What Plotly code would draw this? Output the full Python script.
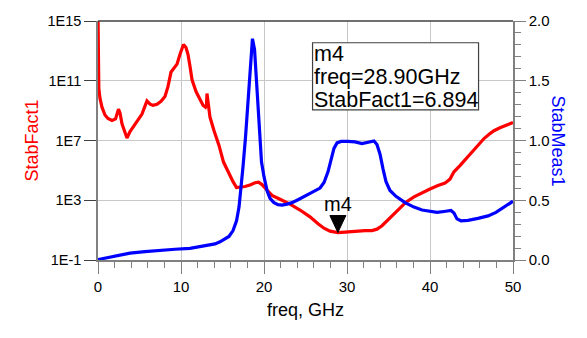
import math
import plotly.graph_objects as go

# ---- data ----
freq_fact = [0, 0.1, 0.24, 0.48, 0.84, 1.2, 1.69, 2.11, 2.47, 2.65, 2.89, 3.25, 3.49, 3.86, 4.34,
             4.82, 5.3, 5.66, 5.9, 6.27, 6.63, 7.11, 7.59, 8.07, 8.43, 8.8, 9.16, 9.52, 9.88,
             10.3, 10.6, 10.84, 11.08, 11.33, 11.81, 12.29, 12.65, 12.95, 13.07, 13.13, 13.25,
             13.49, 13.98, 14.58, 15.12, 15.66, 16.27, 16.69, 17.23, 17.71, 18.31, 18.92, 19.34,
             19.76, 20.24, 20.96, 21.93, 23.13, 24.34, 25.54, 26.51, 27.23, 27.95, 28.9, 29.76,
             30.96, 32.17, 33.01, 33.61, 34.22, 35.18, 36.14, 37.11, 38.07, 39.04, 40.0, 40.96,
             41.81, 42.41, 42.89, 43.61, 44.58, 45.54, 46.51, 47.23, 47.71, 48.43, 49.16, 50.0]
stab_fact = [3e15, 3.0e10, 6.6e9, 1.7e9, 5.1e8, 3.0e8, 2.2e8, 2.8e8, 1.25e9, 6.9e8, 1.3e8, 2.9e7,
             1.46e7, 3.9e7, 9.6e7, 2.0e8, 5.9e8, 2.0e9, 4.5e9, 2.7e9, 2.3e9, 2.7e9, 4.2e9, 8.9e9,
             4.0e10, 3.9e11, 7.1e11, 1.3e12, 5.9e12, 2.7e13, 1.7e13, 5.9e12, 9.6e11, 1.16e11,
             1.9e10, 4.9e9, 2.3e9, 1.7e9, 2.3e9, 1.4e10, 3.1e9, 3.7e8, 4.5e7, 4.7e6, 3.6e5,
             8.0e4, 1.76e4, 7.1e3, 7.7e3, 8.3e3, 1.04e4, 1.5e4, 1.63e4, 1.12e4, 5.7e3, 2.1e3,
             1.16e3, 547, 221, 77, 26.7, 13.5, 8.6, 6.894, 7.4, 8.6, 9.3, 9.3, 11.6, 19.7, 66,
             238, 740, 1.7e3, 3.35e3, 5.7e3, 9.6e3, 1.4e4, 2.6e4, 8.0e4, 2.1e5, 8.9e5, 3.5e6,
             1.35e7, 2.9e7, 4.5e7, 7.1e7, 1.04e8, 1.6e8]

freq_meas = [0, 0.84, 2.05, 3.86, 5.66, 7.47, 9.28, 11.08, 12.29, 13.25, 14.1, 14.7, 15.18, 15.78,
             16.27, 16.69, 16.99, 17.23, 17.47, 17.77, 18.07, 18.37, 18.61, 18.86, 19.16, 19.46,
             19.7, 20.0, 20.36, 20.72, 21.2, 21.69, 22.17, 22.77, 23.37, 24.1, 24.82, 25.78,
             26.75, 27.23, 27.71, 28.07, 28.43, 28.8, 29.28, 30.12, 30.96, 31.81, 32.53, 33.25,
             33.61, 33.98, 34.34, 34.7, 35.18, 35.9, 36.99, 38.07, 39.04, 40.0, 40.84, 41.69,
             42.53, 42.89, 43.25, 43.73, 44.58, 45.78, 46.99, 47.95, 48.8, 49.4, 50.0]
stab_meas = [0.004, 0.016, 0.037, 0.057, 0.070, 0.082, 0.090, 0.098, 0.111, 0.123, 0.135, 0.152,
             0.172, 0.197, 0.246, 0.328, 0.443, 0.590, 0.779, 1.025, 1.352, 1.680, 1.852, 1.762,
             1.434, 1.107, 0.820, 0.697, 0.582, 0.516, 0.480, 0.463, 0.459, 0.467, 0.480, 0.504,
             0.533, 0.566, 0.602, 0.648, 0.738, 0.844, 0.934, 0.980, 0.992, 0.992, 0.988, 0.975,
             0.984, 0.996, 0.967, 0.885, 0.762, 0.656, 0.582, 0.533, 0.480, 0.443, 0.418, 0.406,
             0.398, 0.406, 0.414, 0.393, 0.344, 0.328, 0.332, 0.348, 0.369, 0.398, 0.434, 0.463,
             0.492]

x_ticks = [0, 10, 20, 30, 40, 50]
y_ticks = [1e-1, 1e3, 1e7, 1e11, 1e15]
y_ticktext = ["1E-1", "1E3", "1E7", "1E11", "1E15"]

marker_name = "m4"
marker_freq = 28.90
marker_value = 6.894

FONT = "Arial, Liberation Sans, sans-serif"
AXC = "#808080"
GRID = "#c8c8c8"

fig = go.Figure()
fig.add_trace(go.Scatter(x=freq_fact, y=stab_fact, mode="lines",
                         line=dict(color="#ff0000", width=3.2), yaxis="y"))
fig.add_trace(go.Scatter(x=freq_meas, y=stab_meas, mode="lines",
                         line=dict(color="#0000ff", width=3.2), yaxis="y2"))

fig.update_layout(
    width=587, height=338,
    margin=dict(l=98, r=74, t=16, b=78),
    paper_bgcolor="white", plot_bgcolor="white",
    showlegend=False,
    font=dict(family=FONT, color="black"),
    xaxis=dict(range=[0, 50], tickvals=x_ticks, ticks="outside", ticklen=12, tickcolor=AXC,
               tickfont=dict(size=15), showline=True, linecolor=AXC, linewidth=1.5,
               showgrid=True, gridcolor=GRID, zeroline=False,
               minor=dict(dtick=2, ticks="outside", ticklen=6, tickcolor=AXC, showgrid=False)),
    yaxis=dict(type="log", range=[-1, 15], tickvals=y_ticks, ticktext=y_ticktext,
               ticks="outside", ticklen=12, tickcolor="#404040", tickfont=dict(size=14.5),
               showline=True, linecolor=AXC, linewidth=1.5, showgrid=True, gridcolor=GRID,
               zeroline=False),
    yaxis2=dict(overlaying="y", side="right", range=[0, 2], dtick=0.5, tickformat=".1f",
                ticks="outside", ticklen=11, tickcolor=AXC, tickfont=dict(size=15),
                showline=True, linecolor=AXC, linewidth=1.5, showgrid=False, zeroline=False,
                minor=dict(dtick=0.1, ticks="outside", ticklen=6, tickcolor=AXC)),
)

# top border
fig.add_shape(type="line", xref="paper", yref="paper", x0=0, x1=1, y0=1, y1=1,
              line=dict(color="#404040", width=1.5))

# axis titles
fig.add_annotation(text="StabFact1", xref="paper", yref="paper", x=-0.188, y=0.5,
                   textangle=-90, showarrow=False, font=dict(size=18, color="#ff0000"))
fig.add_annotation(text="StabMeas1", xref="paper", yref="paper", x=(570 - 98) / 415, y=0.5,
                   textangle=90, showarrow=False, font=dict(size=18, color="#0000ff"))
fig.add_annotation(text="freq, GHz", xref="paper", yref="paper", x=0.5, y=(260 - 323) / 244,
                   showarrow=False, font=dict(size=18, color="black"))

# marker triangle + label
fig.add_shape(type="path", xref="x", yref="y", xsizemode="pixel", ysizemode="pixel",
              xanchor=marker_freq, yanchor=marker_value,
              path="M0,0 L-8,17 L8,17 Z", fillcolor="black", line=dict(color="black", width=1))
fig.add_annotation(text=marker_name, x=marker_freq, y=math.log10(marker_value), xref="x",
                   yref="y", showarrow=False, yshift=29, font=dict(size=20, color="black"))

# marker readout box
fig.add_shape(type="rect", xref="paper", yref="paper", x0=0.517, x1=0.917, y0=0.628, y1=0.909,
              fillcolor="white", line=dict(color="#404040", width=1.2), layer="above")
lines = [marker_name, "freq=%.2fGHz" % marker_freq, "StabFact1=%.3f" % marker_value]
ys = [50, 73, 97]
for t, py in zip(lines, ys):
    fig.add_annotation(text=t, xref="paper", yref="paper", x=(312 - 98) / 415,
                       y=(260 - py) / 244, xanchor="left", yanchor="middle", showarrow=False,
                       font=dict(size=21.5, color="black"))

fig.write_html("out.html", config={"displayModeBar": False},
               post_script="document.body.style.margin='0';document.body.style.overflow='hidden';")
